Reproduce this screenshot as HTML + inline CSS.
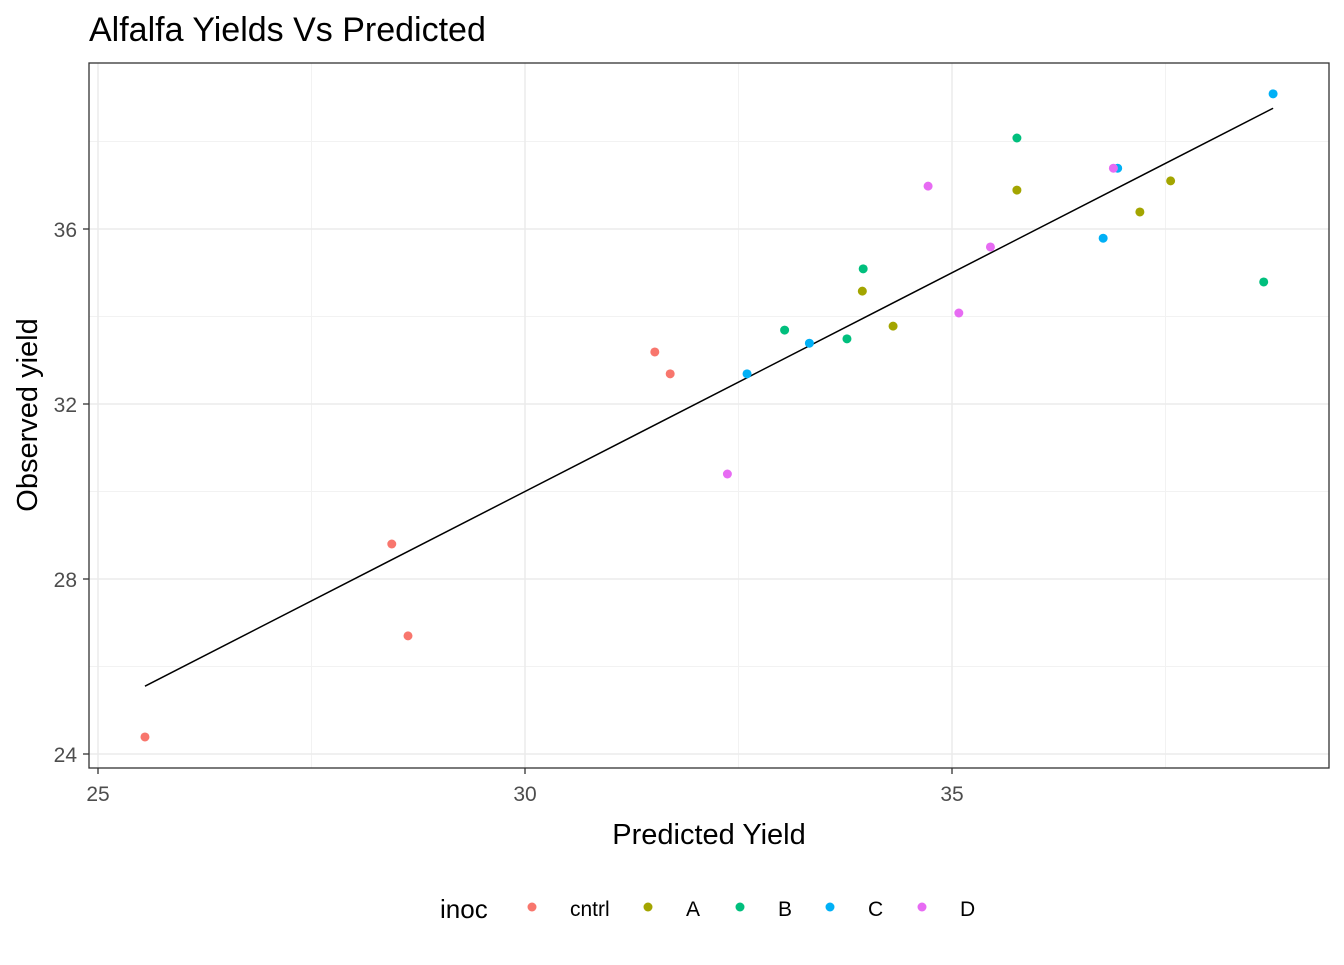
<!DOCTYPE html>
<html><head><meta charset="utf-8"><style>
body{margin:0;background:#fff;font-family:"Liberation Sans",sans-serif;}
svg text{font-family:"Liberation Sans",sans-serif;}
</style></head><body>
<svg id="chart" width="1344" height="960" xmlns="http://www.w3.org/2000/svg">
<text x="89" y="41" font-size="34" fill="#000">Alfalfa Yields Vs Predicted</text>
<g id="grid"></g>
<g id="marks"></g>
<rect x="89" y="63" width="1240" height="705" fill="none" stroke="#333" stroke-width="1.3"/>
<g id="axes"></g>
<text x="709" y="844" font-size="29" text-anchor="middle">Predicted Yield</text>
<text transform="translate(37,415) rotate(-90)" font-size="29" text-anchor="middle">Observed yield</text>
<g id="legend"></g>
</svg>
<script>
const groups=["cntrl","A","B","C","D"];
const colors=["#F8766D","#A3A500","#00BF7D","#00B0F6","#E76BF3"];
const predCntrl=[25.55,28.44,28.63,31.52,31.70];
const obsCntrl=[24.39,28.8,26.7,33.19,32.69];
const predA=[33.95,34.31,35.76,37.20,37.56];
const obsA=[34.58,33.78,36.89,36.39,37.10];
const predB=[33.04,33.77,33.96,35.76,38.65];
const obsB=[33.69,33.49,35.09,38.08,34.79];
const predC=[32.60,33.33,36.77,36.94,38.76];
const obsC=[32.69,33.39,35.79,37.39,39.09];
const predD=[32.37,34.72,35.08,35.45,36.89];
const obsD=[30.40,36.98,34.08,35.59,37.39];
const xTicks=[25,30,35];
const xMinor=[27.5,32.5,37.5];
const yTicks=[24,28,32,36];
const yMinor=[26,30,34,38];
const fitLine=[25.55,38.76];

const NS="http://www.w3.org/2000/svg";
const sx=v=>98+(v-25)*85.4;
const sy=v=>229-(v-36)*43.75;
function mk(tag,attrs,parent){const e=document.createElementNS(NS,tag);for(const k in attrs)e.setAttribute(k,attrs[k]);parent.appendChild(e);return e;}
const grid=document.getElementById('grid'),marks=document.getElementById('marks'),axes=document.getElementById('axes'),legend=document.getElementById('legend');
xMinor.forEach(v=>{const l=mk('line',{x1:sx(v),x2:sx(v),y1:63,y2:768,stroke:'#f2f2f2','stroke-width':1},grid);

});
yMinor.forEach(v=>{const l=mk('line',{x1:89,x2:1329,y1:sy(v),y2:sy(v),stroke:'#f2f2f2','stroke-width':1},grid);

});
xTicks.forEach(v=>{const l=mk('line',{x1:sx(v),x2:sx(v),y1:63,y2:768,stroke:'#ebebeb','stroke-width':1.5},grid);


const t=mk('line',{x1:sx(v),x2:sx(v),y1:768,y2:774,stroke:'#333','stroke-width':1.3},axes);


const tx=mk('text',{x:sx(v),y:801,'font-size':21,fill:'#4d4d4d','text-anchor':'middle'},axes);tx.textContent=v;

});
yTicks.forEach(v=>{const l=mk('line',{x1:89,x2:1329,y1:sy(v),y2:sy(v),stroke:'#ebebeb','stroke-width':1.5},grid);


const t=mk('line',{x1:83,x2:89,y1:sy(v),y2:sy(v),stroke:'#333','stroke-width':1.3},axes);


const tx=mk('text',{x:77,y:sy(v)+8,'font-size':21,fill:'#4d4d4d','text-anchor':'end'},axes);tx.textContent=v;

});
const fl=mk('line',{x1:sx(fitLine[0]),y1:sy(fitLine[0]),x2:sx(fitLine[1]),y2:sy(fitLine[1]),stroke:'#000','stroke-width':1.5},marks);


const preds=[predCntrl,predA,predB,predC,predD],obs=[obsCntrl,obsA,obsB,obsC,obsD];
groups.forEach((g,i)=>{preds[i].forEach((p,j)=>{const c=mk('circle',{cx:sx(p),cy:sy(obs[i][j]),r:4.5,fill:colors[i]},marks);

});});
const lt=mk('text',{x:440,y:918,'font-size':26},legend);lt.textContent='inoc';


const lx=[532,648,740,830,922];
groups.forEach((g,i)=>{const c=mk('circle',{cx:lx[i],cy:907,r:4.5,fill:colors[i]},legend);


const t=mk('text',{x:lx[i]+38,y:916,'font-size':21},legend);t.textContent=g;

});
</script>
</body></html>
